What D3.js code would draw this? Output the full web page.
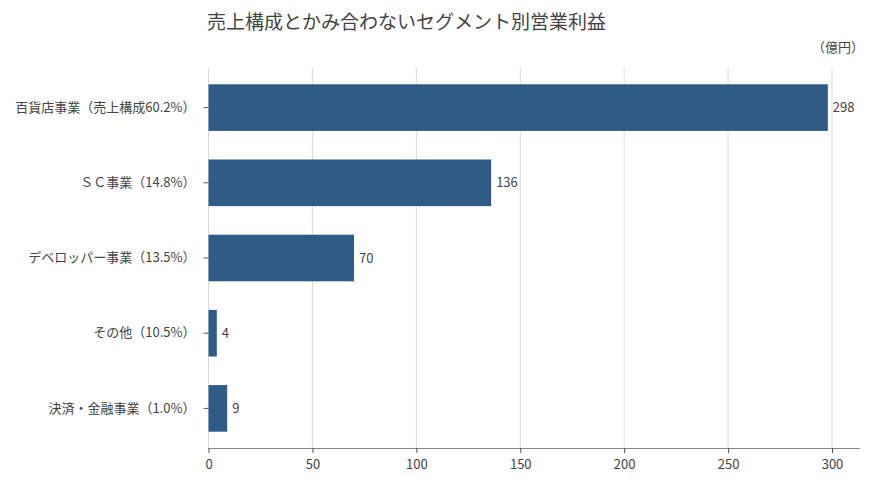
<!DOCTYPE html>
<html>
<head>
<meta charset="utf-8">
<script src="https://cdn.jsdelivr.net/npm/d3@7"></script>
<style>
  body { margin: 0; background: #fff; }
  text { font-family: "Noto Sans CJK JP", "Noto Sans", sans-serif; fill: #444; }
</style>
</head>
<body>
<svg id="chart" width="870" height="484"></svg>
<script>
const categories = [
  "百貨店事業（売上構成60.2%）",
  "ＳＣ事業（14.8%）",
  "デベロッパー事業（13.5%）",
  "その他（10.5%）",
  "決済・金融事業（1.0%）"
];
const values = [298, 136, 70, 4, 9];
const xTicks = [0, 50, 100, 150, 200, 250, 300];
const title = "売上構成とかみ合わないセグメント別営業利益";
const unit = "（億円）";

function draw() {
  const svg = d3.select('#chart');
  const left = 208.5, right = 832, top = 70, bottom = 446;

  const x = d3.scaleLinear().domain([0, 300]).range([left, right]);
  const y = d3.scaleBand().domain(categories).range([top, bottom]).paddingInner(0.38).paddingOuter(0.19);

  // grid
  svg.append('g')
    .selectAll('line')
    .data(xTicks)
    .join('line')
      .attr('x1', d => x(d)).attr('x2', d => x(d))
      .attr('y1', 68).attr('y2', 448)
      .attr('stroke', '#d9d9d9')
      .attr('stroke-width', 1);

  // bars
  svg.append('g')
    .selectAll('rect')
    .data(values)
    .join('rect')
      .attr('x', x(0))
      .attr('y', (d, i) => y(categories[i]))
      .attr('width', d => x(d) - x(0))
      .attr('height', y.bandwidth())
      .attr('fill', '#2e5c87');

  // value labels
  svg.append('g')
    .selectAll('text')
    .data(values)
    .join('text')
      .attr('x', d => x(d) + 5)
      .attr('y', (d, i) => y(categories[i]) + y.bandwidth() / 2)
      .attr('dy', '0.35em')
      .attr('font-size', 13)
      .text(d => d);

  // y axis
  const yAxis = svg.append('g')
    .attr('transform', `translate(${left},0)`)
    .call(d3.axisLeft(y).tickSize(5).tickPadding(8));
  yAxis.select('.domain').remove();
  yAxis.selectAll('.tick line').attr('stroke', '#555');
  yAxis.selectAll('.tick text').attr('font-size', 13).attr('fill', '#444')
    .style('font-family', '"Noto Sans CJK JP", sans-serif');

  // x axis
  const xAxis = svg.append('g')
    .attr('transform', `translate(0,448)`)
    .call(d3.axisBottom(x).tickValues(xTicks).tickSize(5).tickPadding(7).tickSizeOuter(0));
  xAxis.select('.domain').attr('stroke', '#888').attr('d', `M${left},0.5H860`);
  xAxis.selectAll('.tick line').attr('stroke', '#555');
  xAxis.selectAll('.tick text').attr('font-size', 13).attr('fill', '#444')
    .style('font-family', '"Noto Sans CJK JP", sans-serif');

  svg.append('text')
    .attr('x', 207).attr('y', 29)
    .attr('font-size', 19)
    .text(title);

  svg.append('text')
    .attr('x', 864).attr('y', 52)
    .attr('text-anchor', 'end')
    .attr('font-size', 13)
    .text(unit);
}

window.onload = draw;
</script>
</body>
</html>
